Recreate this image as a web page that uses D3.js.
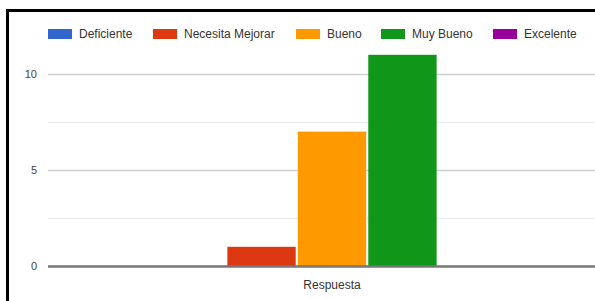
<!DOCTYPE html>
<html>
<head>
<meta charset="utf-8">
<script src="https://cdn.jsdelivr.net/npm/d3@7"></script>
<style>
  body { margin: 0; background: #fff; }
  svg { display: block; font-family: "Liberation Sans", Arial, sans-serif; }
</style>
</head>
<body>
<div id="chart"></div>
<script>
// data
const categories = ['Respuesta'];
const seriesNames = ['Deficiente', 'Necesita Mejorar', 'Bueno', 'Muy Bueno', 'Excelente'];
const seriesValues = [0, 1, 7, 11, 0];
const seriesColors = ['#3366cc', '#dc3912', '#ff9900', '#109618', '#990099'];
const yTicks = [0, 5, 10];
const yMinorTicks = [2.5, 7.5];

const width = 595, height = 301;
const plot = { left: 48, right: 616, top: 74, bottom: 266 };

const svg = d3.select('#chart').append('svg')
  .attr('width', width)
  .attr('height', height);

// frame (top and left edge visible)
svg.append('path')
  .attr('d', `M7.5,${height} L7.5,10.5 L${width},10.5`)
  .attr('fill', 'none')
  .attr('stroke', '#000')
  .attr('stroke-width', 3);

const y = d3.scaleLinear().domain([0, 10]).range([plot.bottom, plot.top]);

const x0 = d3.scaleBand().domain(categories)
  .range([plot.left, plot.right])
  .paddingInner(0).paddingOuter(0.311);

const x1 = d3.scaleBand().domain(seriesNames)
  .range([0, x0.bandwidth()])
  .paddingInner(0.03);

// minor gridlines
svg.append('g').selectAll('line').data(yMinorTicks).join('line')
  .attr('x1', plot.left).attr('x2', width)
  .attr('y1', d => Math.round(y(d)) + 0.5).attr('y2', d => Math.round(y(d)) + 0.5)
  .attr('stroke', '#ebebeb').attr('stroke-width', 1);

// major gridlines
svg.append('g').selectAll('line').data(yTicks.filter(d => d !== 0)).join('line')
  .attr('x1', plot.left).attr('x2', width)
  .attr('y1', d => Math.round(y(d)) + 0.5).attr('y2', d => Math.round(y(d)) + 0.5)
  .attr('stroke', '#d0d0d0').attr('stroke-width', 1.5);

// y labels
svg.append('g').selectAll('text').data(yTicks).join('text')
  .attr('x', 37)
  .attr('y', d => y(d))
  .attr('dy', '0.35em')
  .attr('text-anchor', 'end')
  .attr('font-size', 11)
  .attr('fill', '#444')
  .text(d => d);

// bars
const group = svg.append('g').selectAll('g').data(categories).join('g')
  .attr('transform', d => `translate(${x0(d)},0)`);

group.selectAll('rect')
  .data(() => seriesNames.map((name, i) => ({ name, value: seriesValues[i], color: seriesColors[i] })))
  .join('rect')
  .attr('x', d => x1(d.name))
  .attr('y', d => y(d.value))
  .attr('width', x1.bandwidth())
  .attr('height', d => y(0) - y(d.value))
  .attr('fill', d => d.color);

// baseline
svg.append('line')
  .attr('x1', plot.left).attr('x2', width)
  .attr('y1', plot.bottom + 0.5).attr('y2', plot.bottom + 0.5)
  .attr('stroke', '#777').attr('stroke-width', 2.5);

// category label
svg.append('g').selectAll('text').data(categories).join('text')
  .attr('x', d => x0(d) + x0.bandwidth() / 2)
  .attr('y', 289)
  .attr('text-anchor', 'middle')
  .attr('font-size', 12)
  .attr('fill', '#333')
  .text(d => d);

// legend
const legendX = [48, 153, 296, 381, 493];
const legend = svg.append('g').selectAll('g').data(seriesNames).join('g')
  .attr('transform', (d, i) => `translate(${legendX[i]},29)`);

legend.append('rect')
  .attr('width', 24).attr('height', 10)
  .attr('fill', (d, i) => seriesColors[i]);

legend.append('text')
  .attr('x', 31).attr('y', 5)
  .attr('dy', '0.35em')
  .attr('font-size', 12)
  .attr('fill', '#333')
  .text(d => d);
</script>
</body>
</html>
